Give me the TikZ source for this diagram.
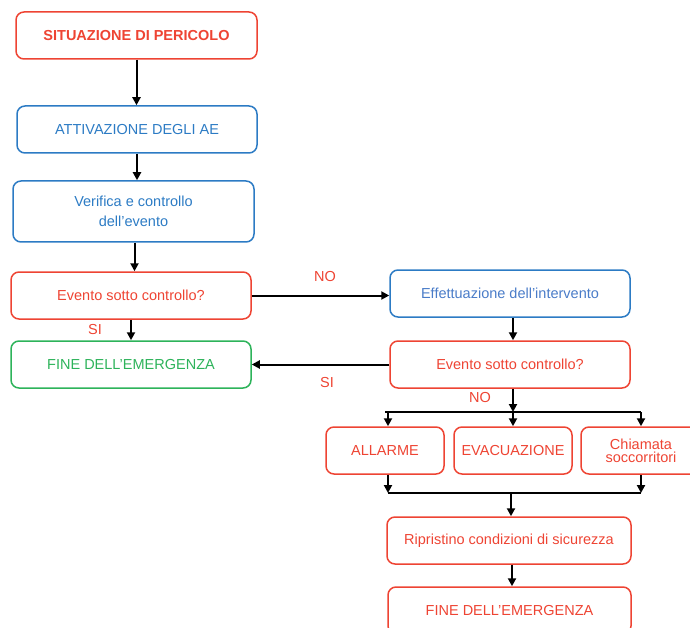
\documentclass[tikz,border=0pt]{standalone}
\usepackage{fontspec}
\setmainfont{Liberation Sans}
\usetikzlibrary{arrows.meta}
\definecolor{cred}{HTML}{EE4433}
\definecolor{cblue}{HTML}{2C7BC4}
\definecolor{cblue2}{HTML}{4A7CC8}
\definecolor{cgreen}{HTML}{2DB35A}
\tikzset{
  box/.style={draw, line width=1.5pt, rounded corners=8pt, minimum height=47pt, inner sep=2pt, align=center, font=\fontsize{14.5pt}{16pt}\selectfont},
  redbox/.style={box, draw=cred, text=cred},
  bluebox/.style={box, draw=cblue, text=cblue},
  greenbox/.style={box, draw=cgreen, text=cgreen},
  arr/.style={line width=2pt, -{Triangle[length=8pt,width=8pt]}},
  ln/.style={line width=2pt},
  lbl/.style={text=cred, font=\fontsize{14.5pt}{16pt}\selectfont, inner sep=0pt}
}
\begin{document}
\begin{tikzpicture}[x=1pt,y=-1pt]
\useasboundingbox (0,0) rectangle (690,628);
\node[redbox, minimum width=241pt, font=\fontsize{14.5pt}{16pt}\selectfont\bfseries] (b1) at (136.5,35.5) {SITUAZIONE DI PERICOLO};
\node[bluebox, minimum width=240pt] (b2) at (137,129.5) {ATTIVAZIONE DEGLI AE};
\node[bluebox, minimum width=241pt, minimum height=61pt, font=\fontsize{14.5pt}{19.5pt}\selectfont] (b3) at (133.5,211.5) {Verifica e controllo\\dell’evento};
\node[redbox, minimum width=240pt] (b4) at (131,295.5) {Evento sotto controllo?};
\node[greenbox, minimum width=240pt] (b5) at (131,364.5) {FINE DELL'EMERGENZA};
\node[bluebox, draw=cblue, text=cblue2, minimum width=240pt] (r1) at (510,293.5) {Effettuazione dell’intervento};
\node[redbox, minimum width=240pt] (r2) at (510,364.5) {Evento sotto controllo?};
\node[redbox, minimum width=118pt] (a1) at (385,450.5) {ALLARME};
\node[redbox, minimum width=118pt] (a2) at (513,450.5) {EVACUAZIONE};
\node[redbox, minimum width=120pt, font=\fontsize{14.5pt}{13pt}\selectfont] (a3) at (641,450.5) {Chiamata\\soccorritori};
\node[redbox, minimum width=244pt] (r3) at (509,540.5) {Ripristino condizioni di sicurezza};
\node[redbox, minimum width=243pt] (r4) at (509.5,610.5) {FINE DELL'EMERGENZA};
% left column arrows
\draw[arr] (b1.south) -- (b1.south |- b2.north);
\draw[arr] (b2.south) -- (b2.south |- b3.north);
\draw[arr] ([xshift=1pt]b3.south) -- ([xshift=1pt]b3.south |- b4.north);
\draw[arr] (b4.south) -- (b5.north);
\draw[arr] (b4.east) -- (b4.east -| r1.west);
\draw[arr] (r2.west) -- (r2.west -| b5.east);
\draw[arr] ([xshift=3pt]r1.south) -- ([xshift=3pt]r1.south |- r2.north);
% split
\coordinate (s) at (513,412);
\draw[arr] ([xshift=3pt]r2.south) -- (s);
\draw[ln] (a1.north |- s) -- (a3.north |- s);
\draw[arr] ([xshift=3pt]a1.north |- s) -- ([xshift=3pt]a1.north);
\draw[arr] (s) -- (a2.north);
\draw[arr] (a3.north |- s) -- (a3.north);
% join
\coordinate (j) at (511,493);
\draw[arr] ([xshift=3pt]a1.south) -- ([xshift=3pt]a1.south |- j);
\draw[arr] (a3.south) -- (a3.south |- j);
\draw[ln] ([xshift=3pt]a1.south |- j) -- (a3.south |- j);
\draw[arr] (j) -- (j |- r3.north);
\draw[arr] ([xshift=3pt]r3.south) -- ([xshift=3pt]r3.south |- r4.north);
% labels
\node[lbl] (l1) at (95,330) {SI};
\node[lbl] (l2) at (325,277) {NO};
\node[lbl] (l3) at (327,383) {SI};
\node[lbl] (l4) at (480,398) {NO};
\end{tikzpicture}
\end{document}
